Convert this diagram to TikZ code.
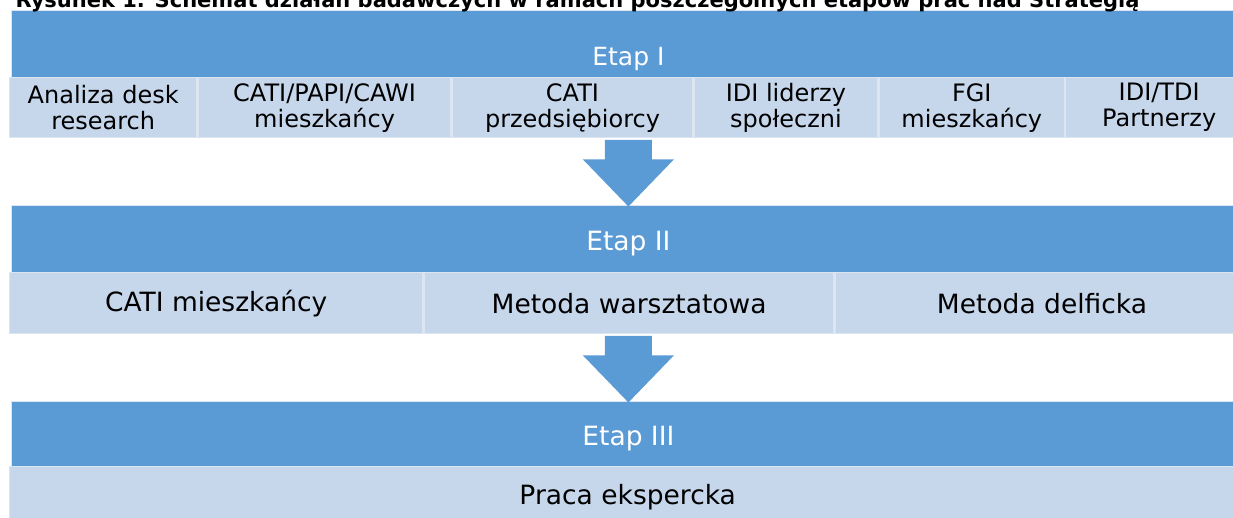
\documentclass[tikz,border=0pt]{standalone}
\usepackage{fontspec}
\setmainfont{DejaVu Sans}
\usetikzlibrary{calc,positioning}
\definecolor{stageblue}{HTML}{5B9BD5}
\definecolor{cellsoft}{HTML}{C6D7EC}
\definecolor{cellline}{HTML}{DCE6F3}
\tikzset{
  band/.style={fill=stageblue,draw=cellline,line width=0.8pt,anchor=north west,inner sep=0pt,minimum width=1234pt,minimum height=67pt},
  cell/.style={fill=cellsoft,draw=cellline,line width=1.4pt,anchor=north west,inner sep=0pt,align=center,text=black},
  smallcell/.style={cell,minimum height=60pt,font=\fontsize{24}{26}\selectfont},
  bigcell/.style={cell,minimum height=61pt,font=\fontsize{26.5}{30}\selectfont},
  stagelab/.style={anchor=base,text=white,font=\fontsize{25}{28}\selectfont},
  heading/.style={anchor=base west,font=\fontsize{21}{24}\selectfont\bfseries}
}
% block arrow from a row (#1) down to the next band (#2)
\newcommand{\stagearrow}[2]{%
  \fill[stageblue] ($(#1)+(-23.5,1.5)$) -- ($(#1)+(-23.5,21)$) -- ($(#1)+(-45.5,21)$)
    -- ($(#2)+(0,1.5)$) -- ($(#1)+(45.5,21)$) -- ($(#1)+(23.5,21)$) -- ($(#1)+(23.5,1.5)$) -- cycle;}

\begin{document}
\begin{tikzpicture}[x=1pt,y=-1pt]
  \useasboundingbox (0,0) rectangle (1233,517);
  \clip (0,0) rectangle (1233,517);

  % Etap I
  \node[band] (b1) at (11,10) {};
  \node[smallcell,minimum width=187pt] (a1) at (9,77) {Analiza desk\\research};
  \node[smallcell,minimum width=253pt,right=0pt of a1] (a2) {CATI/PAPI/CAWI\\mieszkańcy};
  \node[smallcell,minimum width=240pt,right=0pt of a2] (a3) {CATI\\przedsiębiorcy};
  \node[smallcell,minimum width=184pt,right=0pt of a3] (a4) {IDI liderzy\\społeczni};
  \node[smallcell,minimum width=185pt,right=0pt of a4] (a5) {FGI\\mieszkańcy};
  \node[smallcell,minimum width=187pt,right=0pt of a5] (a6) {IDI/TDI\\Partnerzy};
  \node[stagelab] (l1) at ($(b1.south)+(0,-12)$) {Etap I};

  % Etap II
  \node[band] (b2) at (11,205) {};
  \node[bigcell,minimum width=413pt] (m1) at (9,272) {CATI mieszkańcy};
  \node[bigcell,minimum width=410pt,right=0pt of m1] (m2) {Metoda warsztatowa};
  \node[bigcell,minimum width=413pt,right=0pt of m2] (m3) {Metoda delficka};
  \node[stagelab,font=\fontsize{26.5}{30}\selectfont] (l2) at ($(b2.south)+(0,-22)$) {Etap II};

  % Etap III
  \node[band,minimum height=65pt] (b3) at (11,401) {};
  \node[bigcell,minimum width=1236pt] (e1) at (9,466) {Praca ekspercka};
  \node[stagelab,font=\fontsize{26.5}{30}\selectfont] (l3) at ($(b3.south)+(0,-21)$) {Etap III};

  \stagearrow{b1.south |- a1.south}{b2.north}
  \stagearrow{b2.south |- m1.south}{b3.north}

  \node[heading] (title) at (12,7) {Rysunek 1. Schemat działań badawczych w ramach poszczególnych etapów prac nad Strategią};
\end{tikzpicture}
\end{document}
